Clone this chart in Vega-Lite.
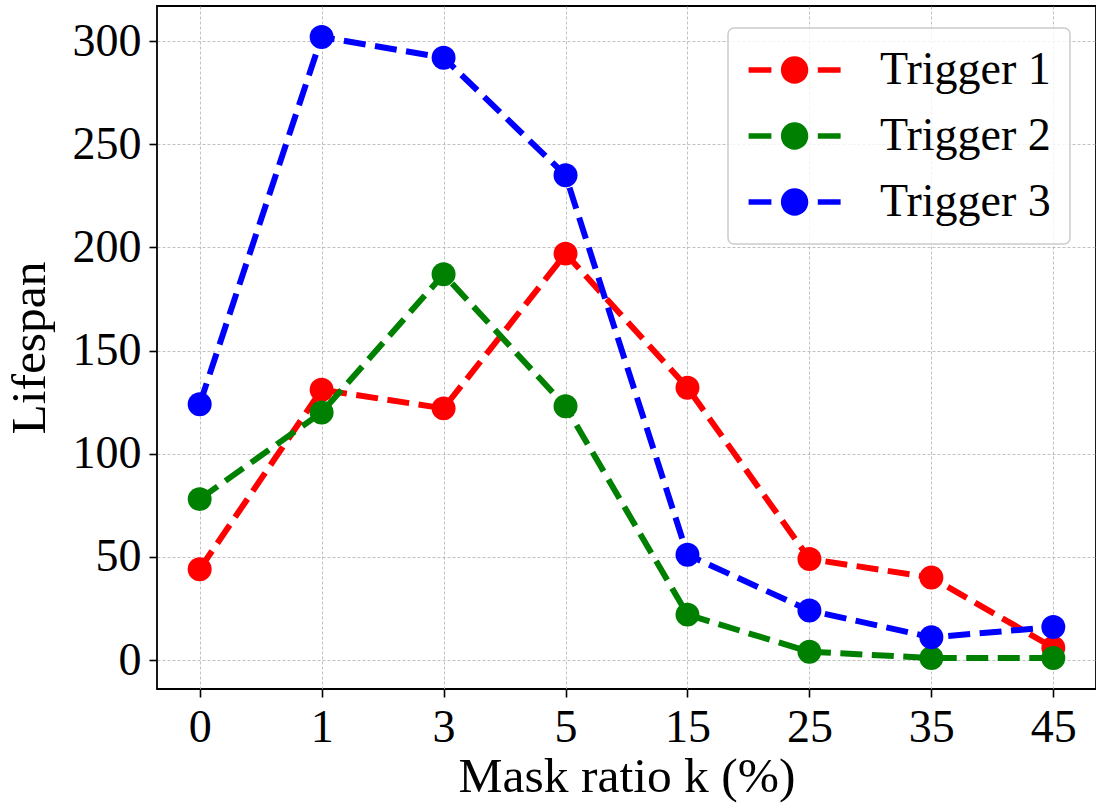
{
  "$schema": "https://vega.github.io/schema/vega-lite/v6.json",
  "width": 939,
  "height": 683,
  "autosize": {"type": "none"},
  "padding": {"left": 157, "top": 6, "right": 0, "bottom": 116},
  "background": "white",
  "config": {
    "font": "Liberation Serif",
    "view": {"stroke": "black", "strokeWidth": 1.8},
    "axis": {
      "labelFont": "Liberation Serif",
      "labelFontSize": 46,
      "labelColor": "black",
      "titleFont": "Liberation Serif",
      "titleFontSize": 49.5,
      "titleFontWeight": "normal",
      "titleColor": "black",
      "tickColor": "black",
      "tickWidth": 1.6,
      "tickSize": 8,
      "domain": false,
      "gridColor": "#b0b0b0",
      "gridWidth": 0.8,
      "gridDash": [3, 2],
      "gridOpacity": 1
    },
    "legend": {
      "labelFont": "Liberation Serif",
      "labelFontSize": 46,
      "labelColor": "black",
      "labelLimit": 400
    }
  },
  "data": {
    "values": [
      {"k": 0, "series": "Trigger 1", "lifespan": 44},
      {"k": 1, "series": "Trigger 1", "lifespan": 131},
      {"k": 3, "series": "Trigger 1", "lifespan": 122},
      {"k": 5, "series": "Trigger 1", "lifespan": 197},
      {"k": 15, "series": "Trigger 1", "lifespan": 132},
      {"k": 25, "series": "Trigger 1", "lifespan": 49},
      {"k": 35, "series": "Trigger 1", "lifespan": 40},
      {"k": 45, "series": "Trigger 1", "lifespan": 6},
      {"k": 0, "series": "Trigger 2", "lifespan": 78},
      {"k": 1, "series": "Trigger 2", "lifespan": 120},
      {"k": 3, "series": "Trigger 2", "lifespan": 187},
      {"k": 5, "series": "Trigger 2", "lifespan": 123},
      {"k": 15, "series": "Trigger 2", "lifespan": 22},
      {"k": 25, "series": "Trigger 2", "lifespan": 4},
      {"k": 35, "series": "Trigger 2", "lifespan": 1},
      {"k": 45, "series": "Trigger 2", "lifespan": 1},
      {"k": 0, "series": "Trigger 3", "lifespan": 124},
      {"k": 1, "series": "Trigger 3", "lifespan": 302},
      {"k": 3, "series": "Trigger 3", "lifespan": 292},
      {"k": 5, "series": "Trigger 3", "lifespan": 235},
      {"k": 15, "series": "Trigger 3", "lifespan": 51},
      {"k": 25, "series": "Trigger 3", "lifespan": 24},
      {"k": 35, "series": "Trigger 3", "lifespan": 11},
      {"k": 45, "series": "Trigger 3", "lifespan": 16}
    ]
  },
  "encoding": {
    "x": {
      "field": "k",
      "type": "ordinal",
      "scale": {"type": "point", "padding": 0.35},
      "axis": {"title": "Mask ratio k (%)", "labelAngle": 0, "labelPadding": 8, "titlePadding": 2, "grid": true}
    },
    "y": {
      "field": "lifespan",
      "type": "quantitative",
      "scale": {"domain": [-14.05, 317.05], "nice": false, "zero": false},
      "axis": {"title": "Lifespan", "values": [0, 50, 100, 150, 200, 250, 300], "labelPadding": 8, "titlePadding": 18, "grid": true}
    },
    "color": {
      "field": "series",
      "type": "nominal",
      "scale": {"domain": ["Trigger 1", "Trigger 2", "Trigger 3"], "range": ["#ff0000", "#008000", "#0000ff"]},
      "legend": {
        "title": null,
        "orient": "none",
        "legendX": 571,
        "legendY": 22,
        "padding": 19,
        "fillColor": "rgba(255,255,255,0.8)",
        "strokeColor": "#cccccc",
        "cornerRadius": 6,
        "symbolType": "M -2.3 -0.14 L -1.16 -0.14 L -1.16 0.14 L -2.3 0.14 Z M 1.16 -0.14 L 2.3 -0.14 L 2.3 0.14 L 1.16 0.14 Z M -0.685 0 A 0.685 0.685 0 1 0 0.685 0 A 0.685 0.685 0 1 0 -0.685 0 Z",
        "symbolSize": 1600,
        "symbolStrokeWidth": 0,
        "symbolOpacity": 1,
        "symbolOffset": 24.6,
        "labelOffset": 62.4,
        "rowPadding": 20,
        "encode": {"legend": {"update": {"strokeWidth": {"value": 1.5}}}}
      }
    }
  },
  "layer": [
    {"mark": {"type": "line", "strokeWidth": 6, "strokeDash": [22, 9.5]}},
    {"mark": {"type": "point", "shape": "circle", "filled": true, "size": 573, "opacity": 1}}
  ]
}
